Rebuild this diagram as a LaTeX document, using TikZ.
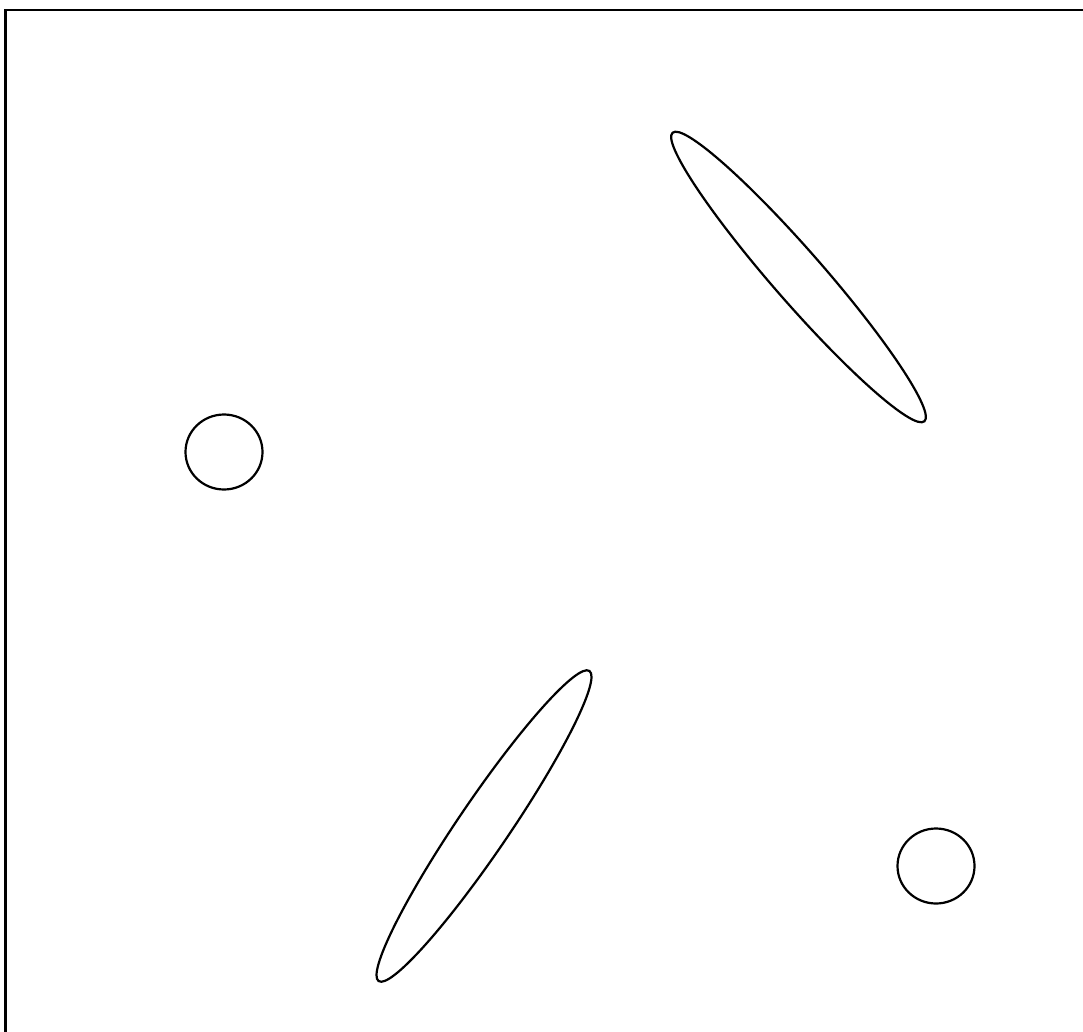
\documentclass[tikz,border=0pt]{standalone}
\begin{document}
\begin{tikzpicture}[x=1pt,y=-1pt,
  shape line/.style={line width=2.2pt, black}]
\useasboundingbox (0,0) rectangle (1083,1032);
\clip (0,0) rectangle (1083,1032);
% frame (extends beyond right and bottom edges)
\draw[shape line] (5.5,1060) -- (5.5,10) -- (1100,10);
% small circles
\draw[shape line] (224,452) ellipse [x radius=38.5, y radius=37.5];
\draw[shape line] (936,866) ellipse [x radius=38.5, y radius=37.5];
% long ellipses
\draw[shape line, rotate around={-48.9:(798.5,277)}] (798.5,277) ellipse [x radius=191.5, y radius=25.5];
\draw[shape line, rotate around={55.8:(484,826)}] (484,826) ellipse [x radius=187.5, y radius=25.5];
\end{tikzpicture}
\end{document}
